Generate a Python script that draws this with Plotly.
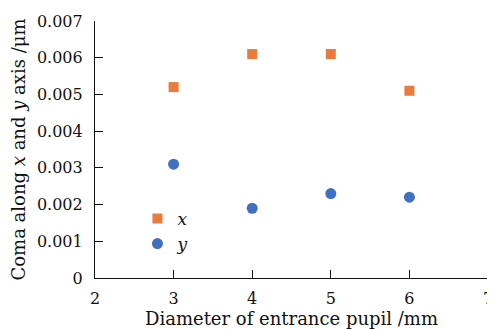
import plotly.graph_objects as go

diameters = [3, 4, 5, 6]
coma_x = [0.0052, 0.0061, 0.0061, 0.0051]
coma_y = [0.0031, 0.0019, 0.0023, 0.0022]

x_ticks = [2, 3, 4, 5, 6, 7]
y_ticks = [0, 0.001, 0.002, 0.003, 0.004, 0.005, 0.006, 0.007]
y_ticklabels = ["0", "0.001", "0.002", "0.003", "0.004", "0.005", "0.006", "0.007"]

FONT = "DejaVu Serif"

fig = go.Figure()
fig.add_trace(go.Scatter(x=diameters, y=coma_x, mode="markers", name="<i>x</i>",
                         marker=dict(symbol="square", size=10, color="#EA7B3C")))
fig.add_trace(go.Scatter(x=diameters, y=coma_y, mode="markers", name="<i>y</i>",
                         marker=dict(symbol="circle", size=11, color="#4270C0")))

# page body has an 8px default margin; size the figure to fill the 495x329 window
fig.update_layout(
    width=487, height=321,
    margin=dict(l=87, r=7, t=13, b=51),
    paper_bgcolor="white", plot_bgcolor="white",
    font=dict(family=FONT, size=16, color="#111"),
    showlegend=True,
    legend=dict(x=0.108, y=0.30, xanchor="left", yanchor="top",
                bgcolor="rgba(0,0,0,0)", font=dict(size=17),
                tracegroupgap=0, itemwidth=30),
    xaxis=dict(range=[2, 7], tickvals=x_ticks, showgrid=False, zeroline=False,
               showline=True, linecolor="#111", linewidth=1.2,
               ticks="inside", ticklen=8, tickcolor="#111",
               ticklabelstandoff=6, automargin=False, ticklabeloverflow="allow",
               title=dict(text="Diameter of entrance pupil /mm",
                          font=dict(size=18))),
    yaxis=dict(range=[0, 0.007], tickvals=y_ticks, ticktext=y_ticklabels,
               showgrid=False, zeroline=False,
               showline=True, linecolor="#111", linewidth=1.2,
               ticks="inside", ticklen=8, tickcolor="#111",
               ticklabelstandoff=8, automargin=False,
               title=dict(text="Coma along <i>x</i> and <i>y</i> axis /μm",
                          standoff=10, font=dict(size=18))),
)

fig.write_html("out.html")
